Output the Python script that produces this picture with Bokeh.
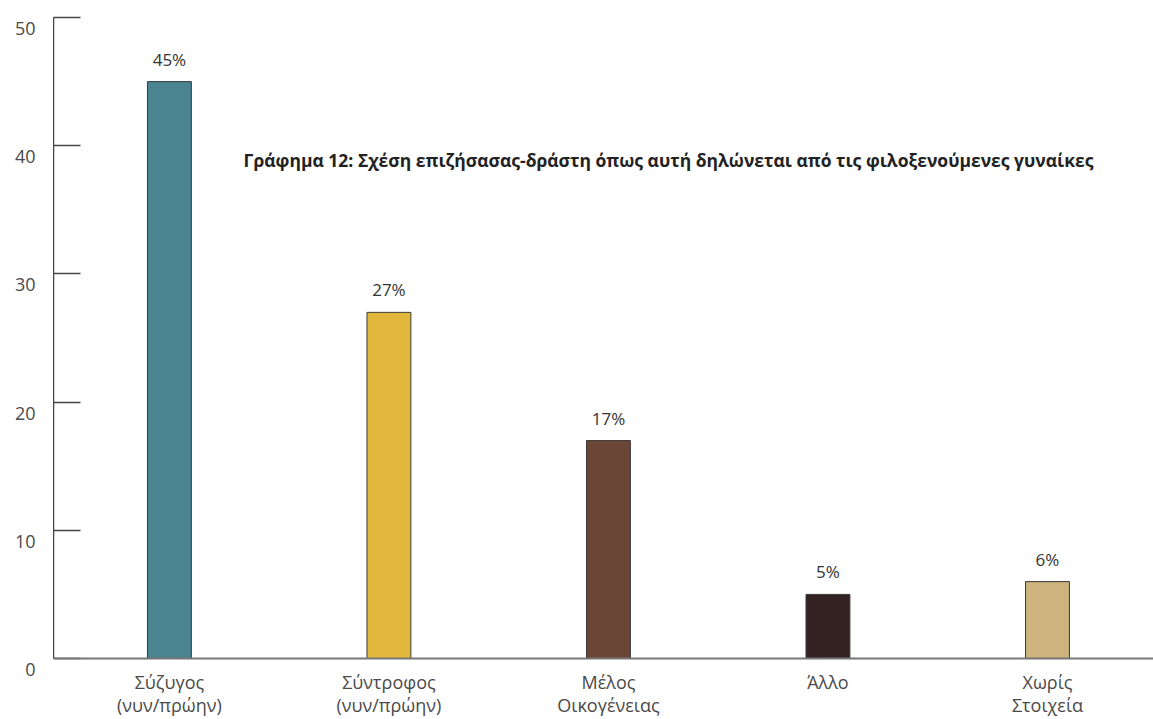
from bokeh.plotting import figure
from bokeh.layouts import row
from bokeh.models import ColumnDataSource, LabelSet, Label, FixedTicker, Range1d, Span
from bokeh.core.properties import value
from bokeh.embed import file_html
from bokeh.resources import INLINE

categories = ["Σύζυγος\n(νυν/πρώην)", "Σύντροφος\n(νυν/πρώην)", "Μέλος\nΟικογένειας", "Άλλο", "Χωρίς\nΣτοιχεία"]
values = [45, 27, 17, 5, 6]
value_labels = ["45%", "27%", "17%", "5%", "6%"]
colors = ["#4b8491", "#e1b83b", "#6b4636", "#342223", "#cdb47e"]
y_ticks = [0, 10, 20, 30, 40, 50]
title_text = "Γράφημα 12: Σχέση επιζήσασας-δράστη όπως αυτή δηλώνεται από τις φιλοξενούμενες γυναίκες"

xs = list(range(len(categories)))
src = ColumnDataSource(dict(x=xs, top=values, color=colors, lab=value_labels,
                            cat=categories, base=[0] * len(xs)))

# y scale: 50 units over 641 px; the plot area extends below 0 to hold the category labels
y_lo = -61 / (641 / 50)
yr = Range1d(y_lo, 50)

# narrow strip on the left carrying the y tick labels (set just below each tick)
lab = figure(width=53, height=719, output_backend="svg", toolbar_location=None,
             x_range=Range1d(0, 53), y_range=yr,
             x_axis_type=None, y_axis_type=None,
             min_border_left=0, min_border_right=0, min_border_top=17, min_border_bottom=0)
lab.outline_line_color = None
lab.grid.grid_line_color = None
ysrc = ColumnDataSource(dict(y=y_ticks, t=[str(v) for v in y_ticks]))
lab.text(x=35, y="y", text="t", source=ysrc, text_align="right", text_baseline="middle",
         y_offset=11, text_font_size="18px", text_font=value("Open Sans"),
         text_color="#4a4a4a")

p = figure(width=1100, height=719, output_backend="svg", toolbar_location=None,
           x_range=Range1d(-0.528, 4.483), y_range=yr, x_axis_type=None,
           min_border_left=0, min_border_right=0, min_border_top=17, min_border_bottom=0)
p.outline_line_color = None
p.grid.grid_line_color = None
p.background_fill_color = "white"

p.vbar(x="x", top="top", width=0.2, bottom=0, source=src, fill_color="color",
       line_color="#3a3a3a", line_width=1)

p.add_layout(LabelSet(x="x", y="top", text="lab", source=src, text_align="center",
                      text_baseline="alphabetic", y_offset=16, text_font_size="17px",
                      text_font=value("Open Sans"), text_color="#333333"))

# x axis line and category labels
p.add_layout(Span(location=0, dimension="width", line_color="#777777", line_width=2))
p.text(x="x", y="base", text="cat", source=src, text_align="center", text_baseline="top",
       y_offset=11, text_font_size="18px", text_font=value("Open Sans"),
       text_color="#4a4a4a", text_line_height=0.98)

# y axis: line and inward ticks only
ya = p.yaxis[0]
ya.bounds = (0, 50)
ya.ticker = FixedTicker(ticks=y_ticks)
ya.axis_line_color = "#444444"
ya.axis_line_width = 1.5
ya.major_tick_in = 27
ya.major_tick_out = 0
ya.major_tick_line_color = "#444444"
ya.major_tick_line_width = 1.5
ya.minor_tick_line_color = None
ya.major_label_overrides = {t: "" for t in y_ticks}
ya.major_label_standoff = 0

p.add_layout(Label(x=0.338, y=38.85, text=title_text, text_baseline="middle",
                   text_font_size="17.5px", text_font="Open Sans", text_font_style="bold",
                   text_color="#222222"))

layout = row(lab, p, spacing=0)
open("out.html", "w").write(file_html(layout, INLINE))
